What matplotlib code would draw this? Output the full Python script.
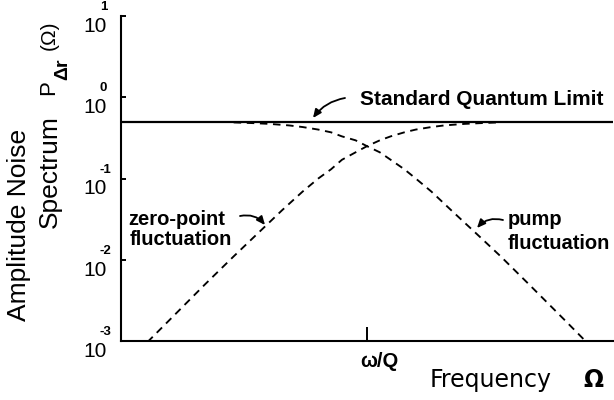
import matplotlib
matplotlib.use("Agg")
import matplotlib.pyplot as plt
from matplotlib.ticker import NullLocator

# Amplitude noise spectra; frequency in units of omega/Q
zero_point_freq = [0.044, 0.06, 0.1, 0.15, 0.2, 0.3, 0.4, 0.5, 0.6, 0.7, 0.85,
                   1.0, 1.2, 1.4, 1.7, 2.0, 2.5, 3.0, 4.0, 5.0, 6.5]
zero_point_level = [0.00097, 0.0018, 0.0050, 0.011, 0.019, 0.041, 0.069, 0.10,
                    0.13, 0.17, 0.21, 0.25, 0.295, 0.33, 0.37, 0.40, 0.43, 0.45,
                    0.47, 0.48, 0.49]
pump_freq = [0.15, 0.2, 0.25, 0.33, 0.4, 0.5, 0.6, 0.7, 0.85, 1.0, 1.2, 1.4,
             1.7, 2.0, 2.5, 3.3, 5.0, 6.7, 10.0, 16.7, 22.7]
pump_level = [0.49, 0.48, 0.47, 0.45, 0.43, 0.40, 0.37, 0.33, 0.295, 0.25, 0.21,
              0.17, 0.13, 0.10, 0.069, 0.041, 0.019, 0.011, 0.0050, 0.0018, 0.00097]
sql_level = 0.5

y_decades = [-3, -2, -1, 0, 1]
x_tick_pos = [1.0]
x_tick_label = "ω/Q"

SANS = "Liberation Sans"
W, H = 614, 400


def fx(px):
    return px / W


def fy(py):
    return 1 - py / H


fig = plt.figure(figsize=(W / 100, H / 100), dpi=100)
ax = fig.add_axes([fx(121), fy(341), (613 - 121) / W, (341 - 16) / H])
ax.set_xscale("log")
ax.set_yscale("log")
ax.set_xlim(10 ** -1.52, 10 ** 1.52)
ax.set_ylim(1e-3, 1e1)

for side in ("top", "right"):
    ax.spines[side].set_visible(False)
for side in ("left", "bottom"):
    ax.spines[side].set_linewidth(1.5)

ax.xaxis.set_minor_locator(NullLocator())
ax.yaxis.set_minor_locator(NullLocator())
ax.set_yticks([10.0 ** d for d in y_decades])
ax.set_yticklabels([])
ax.set_xticks(x_tick_pos)
ax.set_xticklabels([])
ax.tick_params(axis="y", direction="in", length=3.6, width=1.4)
ax.tick_params(axis="x", direction="in", length=10, width=1.4)

# curves
ax.plot(zero_point_freq, zero_point_level, color="black", lw=1.35,
        dashes=(4, 3), zorder=2)
ax.plot(pump_freq, pump_level, color="black", lw=1.35, dashes=(4, 3), zorder=2)
ax.axhline(sql_level, color="black", lw=1.6, zorder=3)

# y tick labels: 10 with a raised exponent
for d in y_decades:
    ax.annotate("10", xy=(0, 10.0 ** d), xycoords=("axes fraction", "data"),
                xytext=(-10.1, -0.7), textcoords="offset points",
                ha="right", va="top", fontsize=15, family=SANS)
    ax.annotate(str(d), xy=(0, 10.0 ** d), xycoords=("axes fraction", "data"),
                xytext=(-15.3, 2.0), textcoords="offset points",
                ha="left", va="bottom", fontsize=9.5, family=SANS,
                fontweight="bold")

# x tick label
ax.annotate(x_tick_label, xy=(x_tick_pos[0], 0), xycoords=("data", "axes fraction"),
            xytext=(-5, -18.5), textcoords="offset points",
            ha="left", va="baseline", fontsize=14.5, family=SANS,
            fontweight="bold")

# axis titles
fig.text(fx(430), fy(387), "Frequency", fontsize=17, family="DejaVu Sans",
         ha="left", va="baseline")
fig.text(fx(583), fy(387), "Ω", fontsize=17, family="DejaVu Sans",
         fontweight="bold", ha="left", va="baseline")

fig.text(fx(26), fy(224.5), "Amplitude Noise", fontsize=19, family=SANS,
         rotation=90, rotation_mode="anchor", ha="center", va="baseline")
fig.text(fx(57), fy(228), "Spectrum", fontsize=19, family=SANS,
         rotation=90, rotation_mode="anchor", ha="left", va="baseline")
fig.text(fx(54), fy(95), "P", fontsize=16, family=SANS,
         rotation=90, rotation_mode="anchor", ha="left", va="baseline")
fig.text(fx(67), fy(80), "Δr", fontsize=14, family=SANS, fontweight="bold",
         rotation=90, rotation_mode="anchor", ha="left", va="baseline")
fig.text(fx(55), fy(50), "(Ω)", fontsize=15, family=SANS,
         rotation=90, rotation_mode="anchor", ha="left", va="baseline")

# annotations
label_kw = dict(fontsize=14.5, family=SANS, fontweight="bold",
                ha="left", va="baseline")
fig.text(fx(360), fy(105), "Standard Quantum Limit", fontsize=15, family=SANS,
         fontweight="bold", ha="left", va="baseline")
fig.text(fx(128), fy(225), "zero-point", **label_kw)
fig.text(fx(130), fy(245), "fluctuation", **label_kw)
fig.text(fx(508), fy(225), "pump", **label_kw)
fig.text(fx(508), fy(249), "fluctuation", **label_kw)

arrow_kw = dict(arrowstyle="-|>,head_length=0.5,head_width=0.22",
                color="black", lw=1.3, shrinkA=0, shrinkB=0)
arrows = [((345, 98), (313, 118), 0.2),
          ((240, 216), (265, 225), -0.3),
          ((503, 220), (477, 228), 0.3)]
for (sx, sy), (tx, ty), rad in arrows:
    ax.annotate("", xy=(tx, H - ty), xycoords="figure pixels",
                xytext=(sx, H - sy), textcoords="figure pixels",
                arrowprops=dict(connectionstyle=f"arc3,rad={rad}", **arrow_kw))

fig.savefig("out.png", dpi=100)
